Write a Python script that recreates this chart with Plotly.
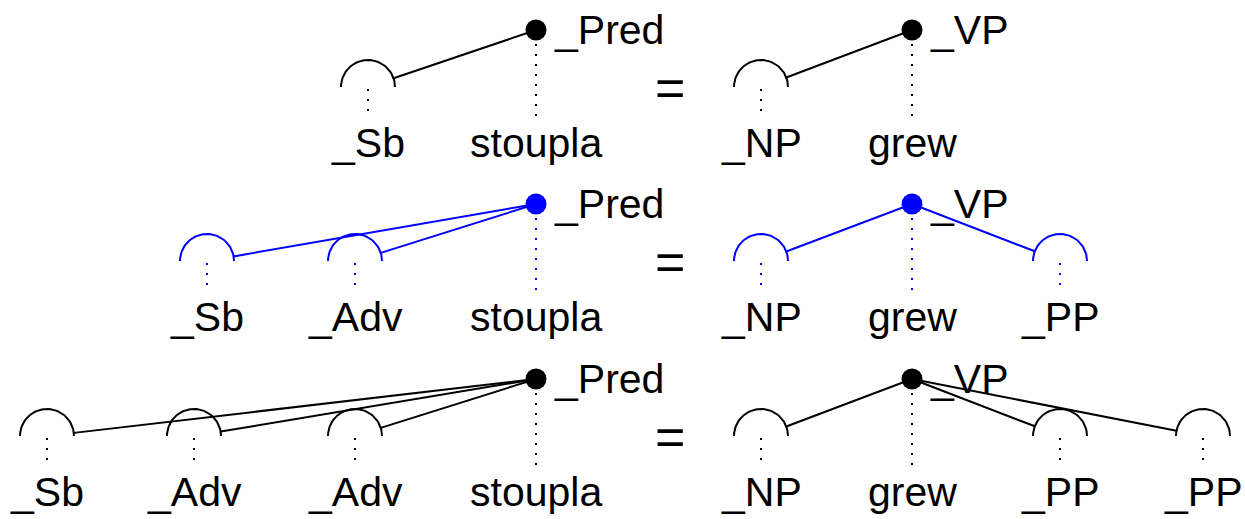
import numpy as np
import plotly.graph_objects as go

# ---- data -------------------------------------------------------------
row_levels = [30, 204, 379]               # vertical level of each row's head node
row_colors = ["black", "blue", "black"]

left_words = [["_Sb", "stoupla"],
              ["_Sb", "_Adv", "stoupla"],
              ["_Sb", "_Adv", "_Adv", "stoupla"]]
left_x = [[368, 536],
          [207, 355, 536],
          [47, 194, 355, 536]]
left_head = [1, 2, 3]
left_root_label = "_Pred"

right_words = [["_NP", "grew"],
               ["_NP", "grew", "_PP"],
               ["_NP", "grew", "_PP", "_PP"]]
right_x = [[761, 912],
           [761, 912, 1060],
           [761, 912, 1060, 1203]]
right_head = [1, 1, 1]
right_root_label = "_VP"

equals_x = 670

# ---- styling ----------------------------------------------------------
W, H = 1245, 519
FONT = "Liberation Sans"
FS = 41
R = 27            # arc radius
ARC_DY = 57       # arc base below head
DOT_END = 88      # dotted line end below head
LABEL_DY = 113    # word label below head

fig = go.Figure()
annotations = []


def add_tree(words, xs, head, y0, color, root_label):
    hx = xs[head]
    arc_y = y0 + ARC_DY
    for i, (w, x) in enumerate(zip(words, xs)):
        if i == head:
            continue
        t = np.linspace(0, np.pi, 60)
        fig.add_trace(go.Scatter(x=x + R * np.cos(t), y=arc_y - R * np.sin(t),
                                 mode="lines", line=dict(color=color, width=2),
                                 hoverinfo="skip", showlegend=False))
        dx, dy = hx - x, y0 - arc_y
        n = np.hypot(dx, dy)
        sx, sy = x + R * dx / n, arc_y + R * dy / n
        fig.add_trace(go.Scatter(x=[sx, hx], y=[sy, y0], mode="lines",
                                 line=dict(color=color, width=2),
                                 hoverinfo="skip", showlegend=False))
        fig.add_trace(go.Scatter(x=[x, x], y=[arc_y + 2, y0 + DOT_END], mode="lines",
                                 line=dict(color=color, width=2, dash="2px,8px"),
                                 hoverinfo="skip", showlegend=False))
    fig.add_trace(go.Scatter(x=[hx, hx], y=[y0 + 14, y0 + DOT_END], mode="lines",
                             line=dict(color=color, width=2, dash="2px,8px"),
                             hoverinfo="skip", showlegend=False))
    fig.add_trace(go.Scatter(x=[hx], y=[y0], mode="markers",
                             marker=dict(color=color, size=21),
                             hoverinfo="skip", showlegend=False))
    for w, x in zip(words, xs):
        annotations.append(dict(x=x, y=y0 + LABEL_DY, text=w, showarrow=False,
                                xanchor="center", yanchor="middle",
                                font=dict(family=FONT, size=FS, color="black")))
    annotations.append(dict(x=hx + 16, y=y0, text=root_label, showarrow=False,
                            xanchor="left", yanchor="middle",
                            font=dict(family=FONT, size=FS, color="black")))


for r in range(3):
    add_tree(left_words[r], left_x[r], left_head[r], row_levels[r], row_colors[r], left_root_label)
    add_tree(right_words[r], right_x[r], right_head[r], row_levels[r], row_colors[r], right_root_label)
    annotations.append(dict(x=equals_x, y=row_levels[r] + 58, text="=", showarrow=False,
                            xanchor="center", yanchor="middle",
                            font=dict(family=FONT, size=52, color="black")))

fig.update_layout(
    width=W, height=H,
    margin=dict(l=0, r=0, t=0, b=0),
    paper_bgcolor="white", plot_bgcolor="white",
    xaxis=dict(range=[0, W], visible=False, fixedrange=True),
    yaxis=dict(range=[H, 0], visible=False, fixedrange=True),
    annotations=annotations,
    showlegend=False,
)

fig.write_html("out.html", config={"displayModeBar": False},
               post_script="document.body.style.margin='0';document.body.style.overflow='hidden';")
